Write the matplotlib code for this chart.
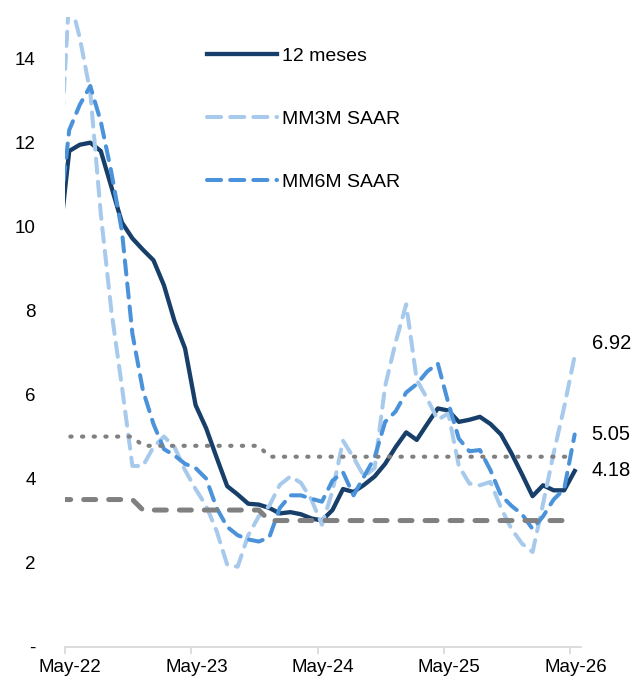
import numpy as np
import matplotlib
matplotlib.use("Agg")
import matplotlib.pyplot as plt
from matplotlib.ticker import FixedLocator, FuncFormatter

plt.rcParams['font.family'] = ['Liberation Sans', 'DejaVu Sans']

# monthly series, Apr-22 (clipped) .. May-26
doce_meses = [9.5, 11.8, 11.95, 12.0, 11.8, 10.95, 10.1, 9.72, 9.45, 9.2,
              8.6, 7.75, 7.1, 5.75, 5.2, 4.5, 3.82, 3.62, 3.4, 3.38,
              3.3, 3.17, 3.2, 3.15, 3.05, 3.0, 3.25, 3.75, 3.68, 3.85,
              4.05, 4.35, 4.75, 5.1, 4.92, 5.3, 5.67, 5.62, 5.35, 5.4,
              5.47, 5.3, 5.05, 4.6, 4.1, 3.58, 3.84, 3.72, 3.72, 4.18]
mm3m_saar = [11.0, 15.5, 14.5, 13.2, 10.3, 8.0, 6.2, 4.3, 4.3, 4.75,
             5.0, 4.75, 4.2, 3.75, 3.35, 2.75, 1.95, 1.9, 2.65, 3.1,
             3.35, 3.85, 4.05, 3.9, 3.5, 2.9, 3.7, 4.9, 4.5, 4.05,
             4.25, 6.2, 7.25, 8.15, 6.35, 5.9, 5.4, 5.55, 4.3, 3.88,
             3.84, 3.92, 3.3, 2.8, 2.45, 2.25, 3.4, 4.6, 5.7, 6.92]
mm6m_saar = [10.0, 12.3, 12.9, 13.35, 12.5, 11.3, 9.9, 7.45, 6.1, 5.3,
             4.7, 4.55, 4.35, 4.25, 4.0, 3.3, 2.85, 2.65, 2.55, 2.5,
             2.6, 3.3, 3.6, 3.6, 3.52, 3.45, 3.95, 4.15, 3.6, 4.05,
             4.5, 5.35, 5.6, 6.05, 6.25, 6.55, 6.74, 5.8, 4.95, 4.65,
             4.68, 4.2, 3.6, 3.35, 3.15, 2.8, 3.1, 3.5, 3.75, 5.05]
ref_punteada = [5.0, 5.0, 5.0, 5.0, 5.0, 5.0, 5.0, 5.0, 4.78, 4.78,
                4.78, 4.78, 4.78, 4.78, 4.78, 4.78, 4.78, 4.78, 4.78, 4.78,
                4.52, 4.52, 4.52, 4.52, 4.52, 4.52, 4.52, 4.52, 4.52, 4.52,
                4.52, 4.52, 4.52, 4.52, 4.52, 4.52, 4.52, 4.52, 4.52, 4.52,
                4.52, 4.52, 4.52, 4.52, 4.52, 4.52, 4.52, 4.52, 4.52, 4.52]
ref_guiones = [3.5, 3.5, 3.5, 3.5, 3.5, 3.5, 3.5, 3.5, 3.25, 3.25,
               3.25, 3.25, 3.25, 3.25, 3.25, 3.25, 3.25, 3.25, 3.25, 3.25,
               3.0, 3.0, 3.0, 3.0, 3.0, 3.0, 3.0, 3.0, 3.0, 3.0,
               3.0, 3.0, 3.0, 3.0, 3.0, 3.0, 3.0, 3.0, 3.0, 3.0,
               3.0, 3.0, 3.0, 3.0, 3.0, 3.0, 3.0, 3.0, 3.0, 3.0]
tick_labels = ["May-22", "May-23", "May-24", "May-25", "May-26"]

NAVY = '#173F69'
LIGHT = '#A7CAEC'
MID = '#4A92DA'
GRAY = '#808080'

# month slots: first value is one month before May-22, points sit inside each month slot
x = np.arange(len(doce_meses)) - 1 + 0.4

fig = plt.figure(figsize=(6.37, 6.77), dpi=100)
ax = fig.add_axes([65 / 637, 1 - 646.5 / 677, (581 - 65) / 637, (646.5 - 16.7) / 677])

ax.plot(x, doce_meses, color=NAVY, lw=3.1, solid_joinstyle='round', label='12 meses', zorder=3)
ax.plot(x, mm3m_saar, color=LIGHT, lw=2.9, dashes=(3.5, 2.25), dash_capstyle='round',
        dash_joinstyle='round', label='MM3M SAAR', zorder=3)
ax.plot(x, mm6m_saar, color=MID, lw=2.9, dashes=(3.5, 2.25), dash_capstyle='round',
        dash_joinstyle='round', label='MM6M SAAR', zorder=3)
ax.plot(x, ref_punteada, color=GRAY, lw=3.0, dashes=(0.3, 2.5), dash_capstyle='round', zorder=4)
ax.plot(x, ref_guiones, color=GRAY, lw=3.6, dashes=(2.4, 2.6), dash_capstyle='round', zorder=4)

ax.set_xlim(0, 49)
ax.set_ylim(0, 15)

for s in ['top', 'right', 'left']:
    ax.spines[s].set_visible(False)
ax.spines['bottom'].set_color('#D9D9D9')
ax.spines['bottom'].set_linewidth(1.3)

ax.xaxis.set_major_locator(FixedLocator([0, 12, 24, 36, 48]))
ax.xaxis.set_minor_locator(FixedLocator([0.5, 12.5, 24.5, 36.5, 48.5]))
ax.set_xticklabels([], minor=False)
ax.set_xticklabels(tick_labels, minor=True)
ax.tick_params(axis='x', which='major', length=5, width=1.3, color='#D9D9D9')
ax.tick_params(axis='x', which='minor', length=0, pad=9, labelsize=13.5)

ax.set_yticks(np.arange(0, 15, 2))
ax.yaxis.set_major_formatter(FuncFormatter(lambda v, p: '-' if v == 0 else f'{v:.0f}'))
ax.tick_params(axis='y', length=0, pad=21, labelsize=13.5)

# end labels
for serie, dy in [(mm3m_saar, 12), (mm6m_saar, 0), (doce_meses, 0)]:
    ax.annotate(f'{serie[-1]:.2f}', xy=(x[-1], serie[-1]), xytext=(17, dy),
                textcoords='offset pixels', ha='left', va='center', fontsize=14.5,
                annotation_clip=False)

leg = ax.legend(loc='upper left', bbox_to_anchor=(207 / 637, 1 - 47 / 677),
                bbox_transform=fig.transFigure, frameon=False, fontsize=14,
                handlelength=3.6, handletextpad=0.25, labelspacing=2.35,
                borderpad=0, borderaxespad=0)

fig.savefig('out.png', dpi=100)
